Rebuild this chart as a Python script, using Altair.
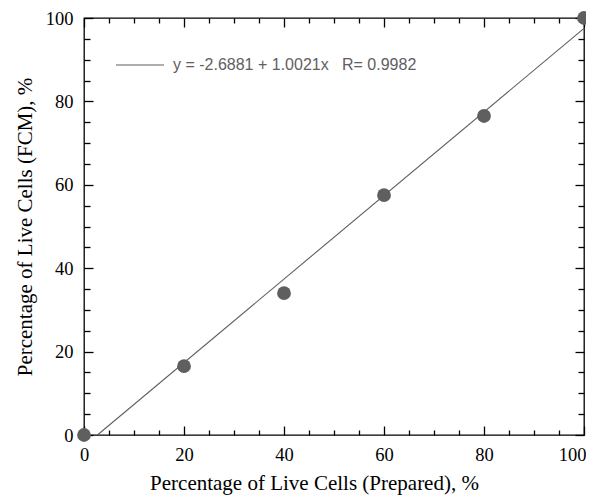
import altair as alt
import pandas as pd

# Data
prepared = [0, 20, 40, 60, 80, 100]
fcm = [0, 16.5, 34, 57.5, 76.5, 100]
intercept = -2.6881
slope = 1.0021
r_value = 0.9982
fit_label = f"y = {intercept} + {slope}x\u00a0\u00a0\u00a0R= {r_value}"

W, H = 500, 417
GRAY = "#5f5f5f"
SERIF = "Liberation Serif"

pts = pd.DataFrame({"x": prepared, "y": fcm})
x0 = -intercept / slope
line_df = pd.DataFrame({"x": [x0, 100], "y": [intercept + slope * x0, intercept + slope * 100],
                        "label": [fit_label, fit_label]})

major = list(range(0, 101, 20))
minor = [v for v in range(0, 101, 5) if v % 20 != 0]

xs = alt.Scale(domain=[0, 100], nice=False, zero=False)
ys = alt.Scale(domain=[0, 100], nice=False, zero=False)

def tick_axis(orient, values, size):
    # shift the axis group across by the tick length (translate) and back along the
    # axis (tickOffset) so that the ticks point into the plot
    if orient in ("bottom", "right"):
        tr, to = 0.5 - size, size
    else:
        tr, to = 0.5 + size, -size
    return alt.Axis(orient=orient, values=values, tickSize=size, translate=tr, tickOffset=to,
                    labels=False, domain=False, grid=False, title=None, ticks=True,
                    tickColor="#000", tickWidth=1.3)

# Layer with labels / titles and the points
points = alt.Chart(pts).mark_circle(size=190, color=GRAY, opacity=1, clip=False).encode(
    x=alt.X("x:Q", scale=xs, axis=alt.Axis(orient="bottom", values=major, ticks=False, domain=False,
                                          grid=False, labelFont=SERIF, labelFontSize=18.5,
                                          labelColor="#000", labelPadding=10, labelFlush=False,
                                          labelOffset={"condition": {"test": "datum.value >= 100", "value": -12}, "value": 0},
                                          title="Percentage of Live Cells (Prepared), %",
                                          titleFont=SERIF, titleFontSize=21, titleFontWeight="normal",
                                          titleColor="#000", titlePadding=9, titleX=230)),
    y=alt.Y("y:Q", scale=ys, axis=alt.Axis(orient="left", values=major, ticks=False, domain=False,
                                          grid=False, labelFont=SERIF, labelFontSize=18.5,
                                          labelColor="#000", labelPadding=11, labelFlush=False,
                                          title="Percentage of Live Cells (FCM), %",
                                          titleFont=SERIF, titleFontSize=21, titleFontWeight="normal",
                                          titleColor="#000", titlePadding=10)),
)

fit = alt.Chart(line_df).mark_line(strokeWidth=1.1).encode(
    x=alt.X("x:Q", scale=xs, axis=tick_axis("bottom", major, 9)),
    y=alt.Y("y:Q", scale=ys, axis=tick_axis("left", major, 9)),
    color=alt.Color("label:N", scale=alt.Scale(domain=[fit_label], range=[GRAY]),
                    legend=alt.Legend(title=None, orient="none", legendX=31, legendY=22,
                                      symbolType="stroke", symbolSize=2304, symbolStrokeWidth=1.1,
                                      labelFont="Liberation Sans", labelFontSize=16, labelLimit=500,
                                      labelColor="#606060", labelOffset=8, padding=0)),
)

def ghost(xaxis, yaxis):
    return alt.Chart(pts).mark_point(opacity=0).encode(
        x=alt.X("x:Q", scale=xs, axis=xaxis),
        y=alt.Y("y:Q", scale=ys, axis=yaxis),
    )

g1 = ghost(tick_axis("bottom", minor, 5), tick_axis("left", minor, 6))
g2 = ghost(tick_axis("top", major, 9), tick_axis("right", major, 9))
g3 = ghost(tick_axis("top", minor, 5), tick_axis("right", minor, 6))

chart = alt.layer(fit, g1, g2, g3, points).resolve_axis(x="independent", y="independent").properties(
    width=W, height=H,
    autosize=alt.AutoSizeParams(type="none"),
    padding={"left": 76, "top": 10, "right": 2, "bottom": 62},
    background="white",
).configure_view(stroke="#000", strokeWidth=1.3)

chart.save("out.html", embed_options={"renderer": "svg", "actions": False})
